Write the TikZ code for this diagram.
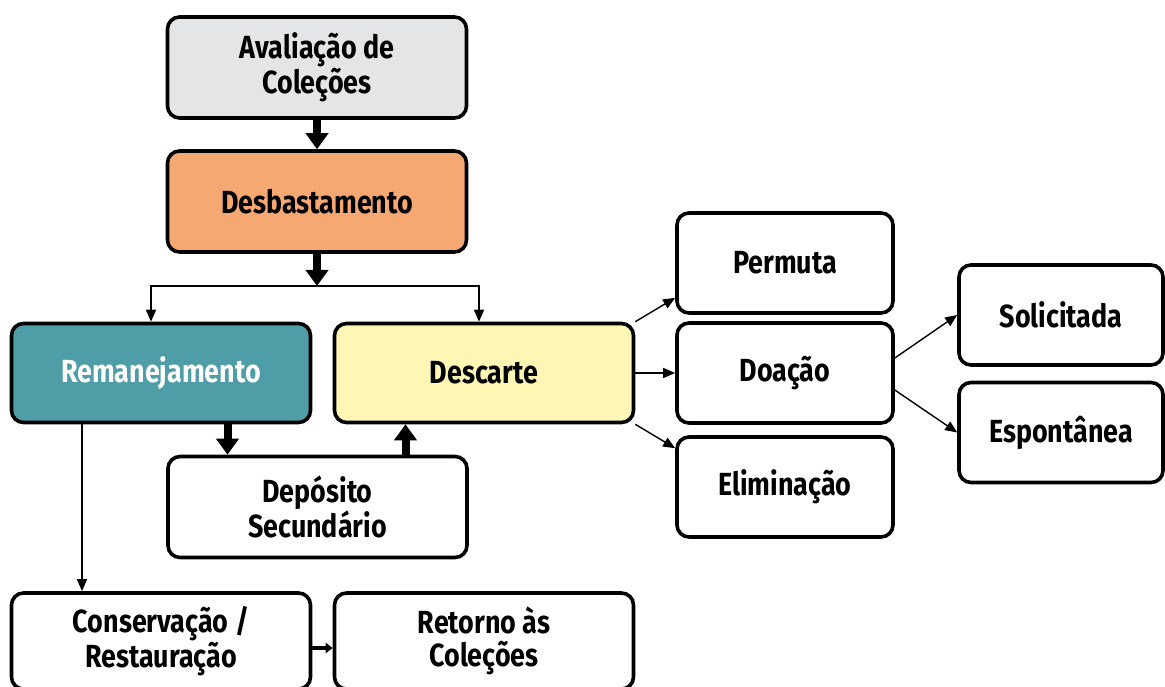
\documentclass[tikz,border=0pt]{standalone}
\usepackage{fontspec}
\setmainfont{Fira Sans}[FakeStretch=0.84]
\usepackage{tikz}
\usetikzlibrary{positioning, arrows, arrows.meta, calc}
\definecolor{cinza}{HTML}{E4E5E7}
\definecolor{laranja}{HTML}{F5A872}
\definecolor{azul}{HTML}{4F9DA6}
\definecolor{amarelo}{HTML}{FDF6B4}
\tikzstyle{arrow} = [line width=1.4pt,-{Triangle[length=12pt,width=10pt]}]
\tikzstyle{bigarrow} = [line width=8pt,-{Triangle[length=16pt,width=22pt]}]
\tikzstyle{smallarrow} = [line width=3.5pt,-{Triangle[length=7pt,width=10pt]}]
\tikzstyle{phase} = [rectangle, rounded corners=12pt, minimum width=299pt, minimum height=101pt, text centered, align=center, draw=black, line width=3.6pt, fill=white, font=\fontsize{32}{33}\selectfont\bfseries]
\tikzstyle{option} = [phase, minimum width=216pt, minimum height=100pt]

\begin{document}
\begin{tikzpicture}[node distance=134pt, x=1pt, y=1pt]
        \clip (0,0) rectangle (1165,-687);
        \fill [white] (0,0) rectangle (1165,-687);
        \node (avaliacao) [phase, fill=cinza] at (317,-67.5) {Avaliação de\\Coleções};
        \node (desbaste) [phase, fill=laranja, below of=avaliacao] {Desbastamento};
        \node (remanej) [phase, fill=azul, text=white, below of=desbaste, xshift=-156pt, yshift=-37.5pt, minimum height=99pt] {Remanejamento};
        \node (descarte) [phase, fill=amarelo, right of=remanej, xshift=189pt, minimum height=99pt] {Descarte};
        \node (deposito) [phase, below of=remanej, xshift=156.5pt] {Depósito\\Secundário};
        \node (conserv) [phase, below of=remanej, yshift=-134pt, minimum height=96pt] {Conservação /\\Restauração};
        \node (retorno) [phase, right of=conserv, xshift=189pt, minimum height=96pt] {Retorno às\\Coleções};
        \node (doacao) [option, right of=descarte, xshift=167pt] {Doação};
        \node (permuta) [option, above of=doacao, yshift=-24pt] {Permuta};
        \node (elimin) [option, below of=doacao, yshift=20pt] {Eliminação};
        \node (solicit) [option, minimum width=204pt, right of=doacao, xshift=142pt, yshift=58pt] {Solicitada};
        \node (espont) [option, minimum width=204pt, below of=solicit, yshift=16.5pt] {Espontânea};
        \coordinate (split) at (317,-286);

        \draw [bigarrow] (avaliacao) -- (desbaste);
        \draw [bigarrow] (desbaste) -- (split);
        \draw [arrow] (split) -| ([xshift=-10pt]remanej.north);
        \draw [arrow] (split) -| ([xshift=-5pt]descarte.north);
        \draw [bigarrow] ([xshift=-90pt]deposito.north |- remanej.south) -- ([xshift=-90pt]deposito.north);
        \draw [bigarrow] ([xshift=88pt]deposito.north) -- ([xshift=88pt]deposito.north |- descarte.south);
        \draw [arrow] ([xshift=-79pt]remanej.south) -- ([xshift=-79pt]conserv.north);
        \draw [smallarrow] ([yshift=-7pt]conserv.east) -- ([yshift=-7pt]retorno.west);
        \draw [arrow] (descarte.north east) -- ([yshift=17pt]permuta.south west);
        \draw [arrow] (descarte) -- (doacao);
        \draw [arrow] (descarte.south east) -- ([yshift=-13pt]elimin.north west);
        \draw [arrow] ([yshift=15pt]doacao.east) -- (solicit.west);
        \draw [arrow] ([yshift=-17pt]doacao.east) -- (espont.west);

        \end{tikzpicture}
\end{document}
